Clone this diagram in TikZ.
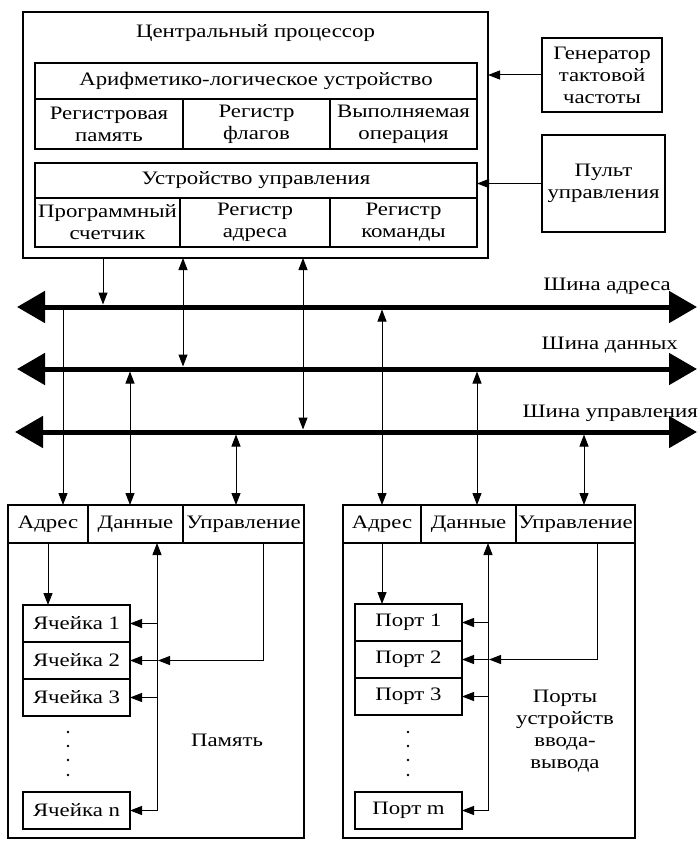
\documentclass[tikz,border=0pt]{standalone}
\usepackage{fontspec}
\setmainfont{Liberation Serif}[FakeStretch=1.2]
\usetikzlibrary{arrows.meta,positioning}

\tikzset{
  box/.style={draw, line width=1.2pt, inner sep=0pt, outer sep=0pt, align=center},
  hcell/.style={box, minimum height=38pt},
  cell/.style={box, minimum width=107pt, minimum height=37pt},
  conn/.style={line width=1pt},
  oneway/.style={conn, -{Triangle[length=12pt,width=9pt]}},
  twoway/.style={conn, {Triangle[length=12pt,width=9pt]}-{Triangle[length=12pt,width=9pt]}},
  bus/.style={line width=5pt, {Triangle[length=28pt,width=31pt]}-{Triangle[length=28pt,width=31pt]}},
}

\begin{document}
\begin{tikzpicture}[x=1pt, y=-1pt,
  every node/.append style={font=\fontsize{19}{22}\selectfont}]
\useasboundingbox (0,0) rectangle (699,842);

% central processor
\node[box, minimum width=465pt, minimum height=246pt] (cpu) at (255.5,135) {};
\node (cputitle) at (255.5,33) {Центральный процессор};
\node[box, minimum width=442pt, minimum height=36pt] (aluhead) at (256,81) {Арифметико-логическое устройство};
\node[box, minimum width=148pt, minimum height=50pt, anchor=north west] (alureg) at (aluhead.south west) {Регистровая\\память};
\node[box, minimum width=147pt, minimum height=50pt, right=0pt of alureg] (aluflag) {Регистр\\флагов};
\node[box, minimum width=147pt, minimum height=50pt, right=0pt of aluflag] (aluop) {Выполняемая\\операция};
\node[box, minimum width=442pt, minimum height=35pt] (cuhead) at (256,180.5) {Устройство управления};
\node[box, minimum width=145pt, minimum height=49pt, anchor=north west] (cupc) at (cuhead.south west) {Программный\\счетчик};
\node[box, minimum width=150pt, minimum height=49pt, right=0pt of cupc] (cuar) {Регистр\\адреса};
\node[box, minimum width=147pt, minimum height=49pt, right=0pt of cuar] (cuir) {Регистр\\команды};

% clock and console
\node[box, minimum width=120pt, minimum height=74pt] (gen) at (602,75) {Генератор\\тактовой\\частоты};
\node[box, minimum width=123pt, minimum height=97pt] (pult) at (603.5,183.5) {Пульт\\управления};
\draw[oneway] (gen.west) -- (cpu.east |- gen.west);
\draw[oneway] (pult.west) -- (cuhead.east |- pult.west);

% buses
\coordinate (abusL) at (17,307);
\coordinate (abusR) at (697,307);
\coordinate (dbusL) at (17,369);
\coordinate (dbusR) at (697,369);
\coordinate (cbusL) at (15,432);
\coordinate (cbusR) at (697,432);
\node[anchor=base east, inner sep=0pt] (alabel) at (671,290) {Шина адреса};
\node[anchor=base east, inner sep=0pt] (dlabel) at (678,349) {Шина данных};
\node[anchor=base east, inner sep=0pt] (clabel) at (698,417) {Шина управления};

% memory
\node[box, minimum width=296pt, minimum height=333pt] (mem) at (156,671.5) {};
\node[hcell, minimum width=80pt, anchor=north west] (memA) at (mem.north west) {Адрес};
\node[hcell, minimum width=95pt, right=0pt of memA] (memD) {Данные};
\node[hcell, minimum width=121pt, right=0pt of memD] (memC) {Управление};
\node[cell] (cell1) at (76.5,623.5) {Ячейка 1};
\node[cell, below=0pt of cell1] (cell2) {Ячейка 2};
\node[cell, below=0pt of cell2] (cell3) {Ячейка 3};
\node[cell] (celln) at (76.5,810.5) {Ячейка n};
\foreach \y in {732,746,760,775}
  \fill (68,\y) circle (1.3pt);
\node (memlabel) at (227,740) {Память};

% input/output ports
\node[box, minimum width=292pt, minimum height=333pt] (io) at (489,671.5) {};
\node[hcell, minimum width=78pt, anchor=north west] (ioA) at (io.north west) {Адрес};
\node[hcell, minimum width=95pt, right=0pt of ioA] (ioD) {Данные};
\node[hcell, minimum width=119pt, right=0pt of ioD] (ioC) {Управление};
\node[cell] (port1) at (408.5,622.5) {Порт 1};
\node[cell, below=0pt of port1] (port2) {Порт 2};
\node[cell, below=0pt of port2] (port3) {Порт 3};
\node[cell] (portm) at (408.5,810.5) {Порт m};
\foreach \y in {732,746,760,775}
  \fill (408,\y) circle (1.3pt);
\node[align=center] (iolabel) at (565,731) {Порты\\устройств\\ввода-\\вывода};

% links to the buses
\draw[oneway,shorten >=2.5pt] (103,0 |- cpu.south) -- (103,0 |- abusL);
\draw[twoway,shorten >=2.5pt] (183,0 |- cpu.south) -- (183,0 |- dbusL);
\draw[twoway,shorten >=2.5pt] (303,0 |- cpu.south) -- (303,0 |- cbusL);
\draw[oneway] (63,0 |- abusL) -- (63,0 |- mem.north);
\draw[twoway,shorten <=2.5pt] (130,0 |- dbusL) -- (130,0 |- mem.north);
\draw[twoway,shorten <=2.5pt] (236,0 |- cbusL) -- (236,0 |- mem.north);
\draw[twoway,shorten <=2.5pt] (382,0 |- abusL) -- (382,0 |- io.north);
\draw[twoway,shorten <=2.5pt] (477,0 |- dbusL) -- (477,0 |- io.north);
\draw[twoway,shorten <=2.5pt] (584,0 |- cbusL) -- (584,0 |- io.north);
\draw[bus] (abusL) -- (abusR);
\draw[bus] (dbusL) -- (dbusR);
\draw[bus] (cbusL) -- (cbusR);

% inside memory
\draw[oneway] (memA.south) -- (memA.south |- cell1.north);
\draw[twoway] (157,0 |- memD.south) -- (157,0 |- celln.east) -- (celln.east);
\foreach \c in {cell1,cell2,cell3}
  \draw[oneway] (157,0 |- \c.east) -- (\c.east);
\draw[oneway] (263,0 |- memC.south) -- (263,0 |- cell2.east) -- (158,0 |- cell2.east);

% inside ports
\draw[oneway] (ioA.south) -- (ioA.south |- port1.north);
\draw[twoway] (488,0 |- ioD.south) -- (488,0 |- portm.east) -- (portm.east);
\foreach \c in {port1,port2,port3}
  \draw[oneway] (488,0 |- \c.east) -- (\c.east);
\draw[oneway] (597,0 |- ioC.south) -- (597,0 |- port2.east) -- (489,0 |- port2.east);
\end{tikzpicture}
\end{document}
